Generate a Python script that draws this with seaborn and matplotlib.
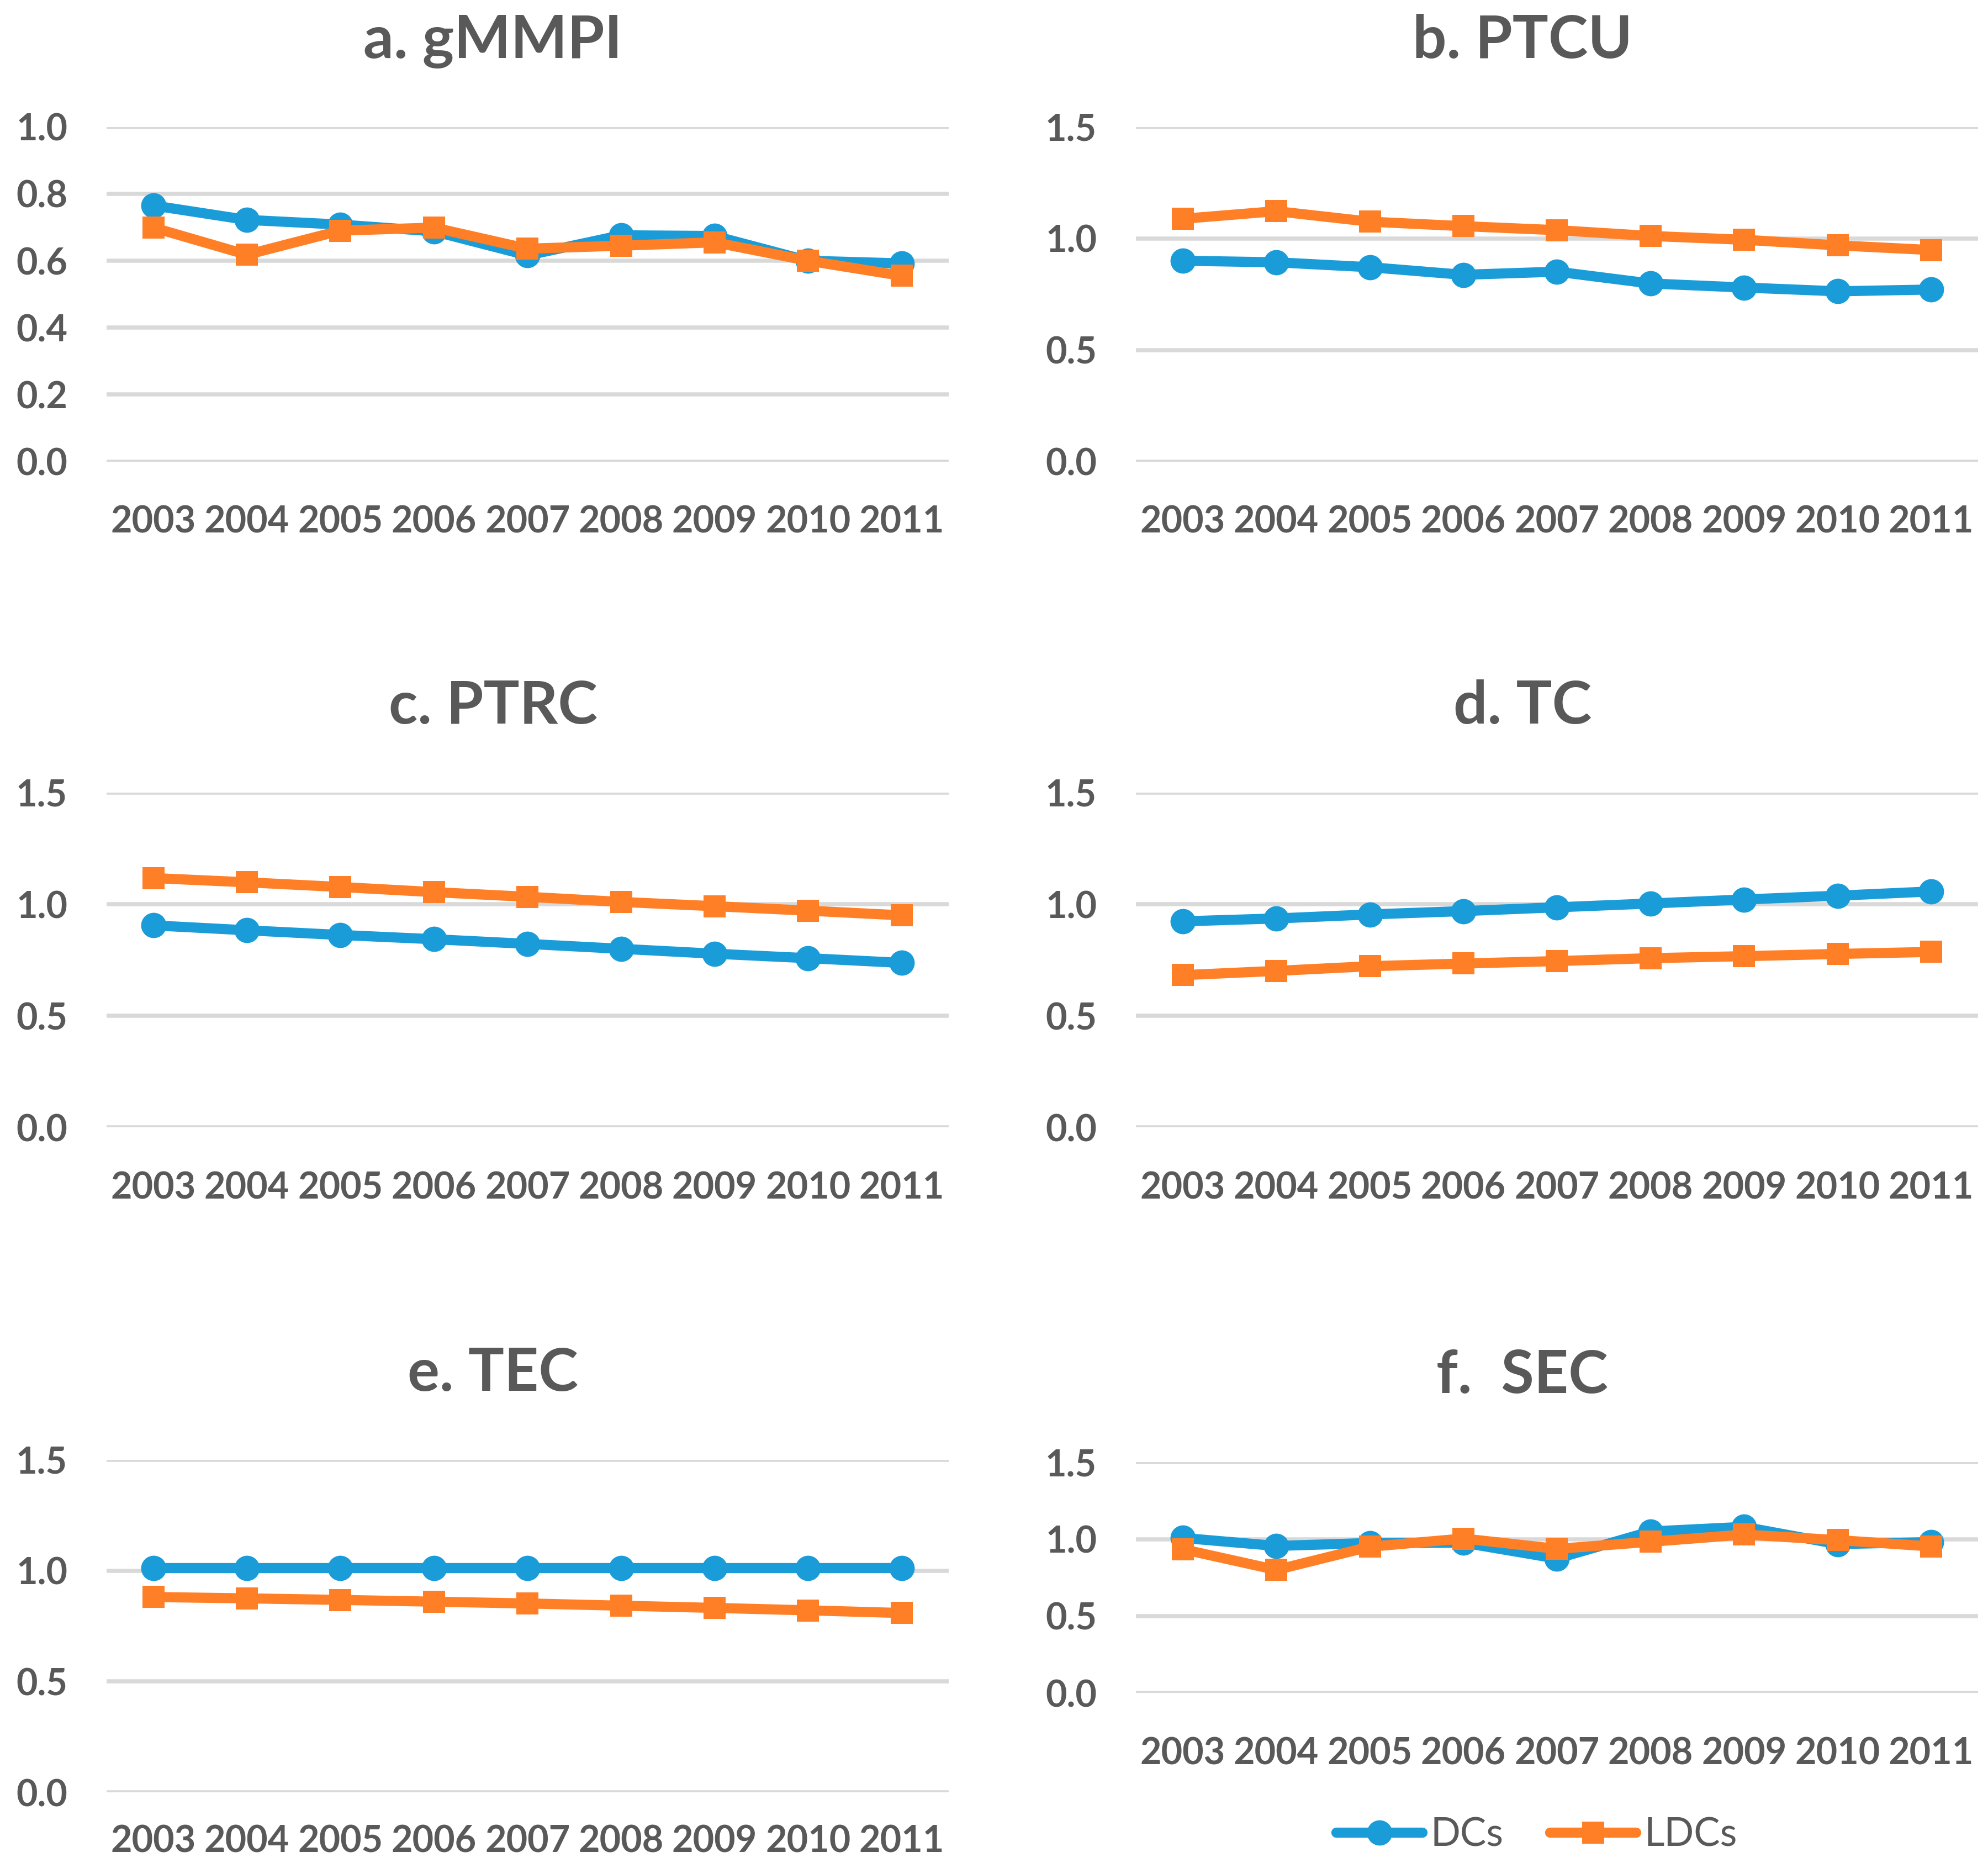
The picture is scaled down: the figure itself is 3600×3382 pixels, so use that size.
import matplotlib
matplotlib.use("Agg")
import matplotlib.pyplot as plt
import seaborn as sns
import pandas as pd
from matplotlib.lines import Line2D


# Data
years = ["2003", "2004", "2005", "2006", "2007", "2008", "2009", "2010", "2011"]

gmmpi_dcs = [0.765, 0.722, 0.708, 0.688, 0.616, 0.676, 0.674, 0.600, 0.592]
gmmpi_ldcs = [0.699, 0.618, 0.690, 0.699, 0.636, 0.645, 0.655, 0.600, 0.555]

ptcu_dcs = [0.900, 0.893, 0.871, 0.837, 0.851, 0.798, 0.780, 0.763, 0.771]
ptcu_ldcs = [1.088, 1.122, 1.075, 1.055, 1.037, 1.011, 0.994, 0.969, 0.948]

ptrc_dcs = [0.905, 0.883, 0.862, 0.843, 0.822, 0.800, 0.778, 0.758, 0.737]
ptrc_ldcs = [1.117, 1.098, 1.077, 1.054, 1.033, 1.010, 0.991, 0.971, 0.950]

tc_dcs = [0.923, 0.936, 0.954, 0.969, 0.986, 1.003, 1.021, 1.038, 1.057]
tc_ldcs = [0.682, 0.701, 0.722, 0.734, 0.745, 0.758, 0.767, 0.777, 0.786]

tec_dcs = [1.012, 1.012, 1.012, 1.012, 1.012, 1.012, 1.012, 1.012, 1.012]
tec_ldcs = [0.881, 0.875, 0.868, 0.860, 0.852, 0.842, 0.832, 0.821, 0.809]

sec_dcs = [1.008, 0.956, 0.975, 0.977, 0.874, 1.050, 1.080, 0.968, 0.981]
sec_ldcs = [0.935, 0.800, 0.951, 1.004, 0.937, 0.983, 1.030, 0.994, 0.953]

titles = ["a. gMMPI", "b. PTCU", "c. PTRC", "d. TC", "e. TEC", "f.  SEC"]
dcs_all = [gmmpi_dcs, ptcu_dcs, ptrc_dcs, tc_dcs, tec_dcs, sec_dcs]
ldcs_all = [gmmpi_ldcs, ptcu_ldcs, ptrc_ldcs, tc_ldcs, tec_ldcs, sec_ldcs]
yticks_all = [
    [0.0, 0.2, 0.4, 0.6, 0.8, 1.0],
    [0.0, 0.5, 1.0, 1.5],
    [0.0, 0.5, 1.0, 1.5],
    [0.0, 0.5, 1.0, 1.5],
    [0.0, 0.5, 1.0, 1.5],
    [0.0, 0.5, 1.0, 1.5],
]

BLUE = "#1A9CD8"
ORANGE = "#FF7F27"
GRAY = "#595959"
GRID = "#D9D9D9"
LW = 4.4

sns.set_style("white")
plt.rcParams["font.family"] = ["Lato", "DejaVu Sans"]

fig = plt.figure(figsize=(12, 3382 / 300), dpi=300)

# axes boxes [left, bottom, width, height] in figure fraction
lefts = [0.0536, 0.5714]
width = 0.4235
rows = [(0.7529, 0.1792), (0.3965, 0.1792), (0.0404, 0.1782)]
boxes = [
    [lefts[0], rows[0][0], width, rows[0][1]],
    [lefts[1], rows[0][0], width, rows[0][1]],
    [lefts[0], rows[1][0], width, rows[1][1]],
    [lefts[1], rows[1][0], width, rows[1][1]],
    [lefts[0], rows[2][0], width, rows[2][1]],
    [lefts[1], 0.0937, width, 0.1235],
]

for i in range(6):
    ax = fig.add_axes(boxes[i])
    df = pd.DataFrame({"year": years, "DCs": dcs_all[i], "LDCs": ldcs_all[i]})

    sns.lineplot(data=df, x="year", y="DCs", ax=ax, color=BLUE, linewidth=LW,
                 marker="o", markersize=11, markeredgewidth=0, clip_on=False,
                 zorder=3)
    sns.lineplot(data=df, x="year", y="LDCs", ax=ax, color=ORANGE, linewidth=LW,
                 marker="s", markersize=9.5, markeredgewidth=0, clip_on=False,
                 zorder=4)

    yt = yticks_all[i]
    ax.set_ylim(yt[0], yt[-1])
    ax.set_yticks(yt)
    ax.set_yticklabels([f"{v:.1f}" for v in yt])
    ax.set_xlim(-0.5, len(years) - 0.5)

    for y in yt:
        ax.axhline(y, color=GRID, linewidth=1.8, zorder=1)

    ax.set_xlabel("")
    ax.set_ylabel("")
    # Excel centres the title over the whole chart area, a bit left of the axes
    ax.set_title(titles[i], fontsize=26, fontweight="bold", color=GRAY, pad=30,
                 x=0.459)
    for s in ax.spines.values():
        s.set_visible(False)
    ax.tick_params(axis="both", length=0, labelcolor=GRAY, labelsize=16)
    # bottom-left panel sits at the figure edge; keep its year labels inside
    ax.tick_params(axis="x", pad=19 if i != 4 else 14)
    ax.tick_params(axis="y", pad=17)
    for lab in ax.get_xticklabels() + ax.get_yticklabels():
        lab.set_fontweight("bold")

handles = [
    Line2D([], [], color=BLUE, linewidth=LW, marker="o", markersize=11,
           markeredgewidth=0, label="DCs"),
    Line2D([], [], color=ORANGE, linewidth=LW, marker="s", markersize=9.5,
           markeredgewidth=0, label="LDCs"),
]
leg = fig.legend(handles=handles, loc="center", bbox_to_anchor=(0.773, 0.0177),
                 ncol=2, frameon=False, fontsize=17, handlelength=2.2,
                 columnspacing=1.2, handletextpad=0.2)
for t in leg.get_texts():
    t.set_color(GRAY)

plt.savefig("out.png", dpi=300)
plt.close()
